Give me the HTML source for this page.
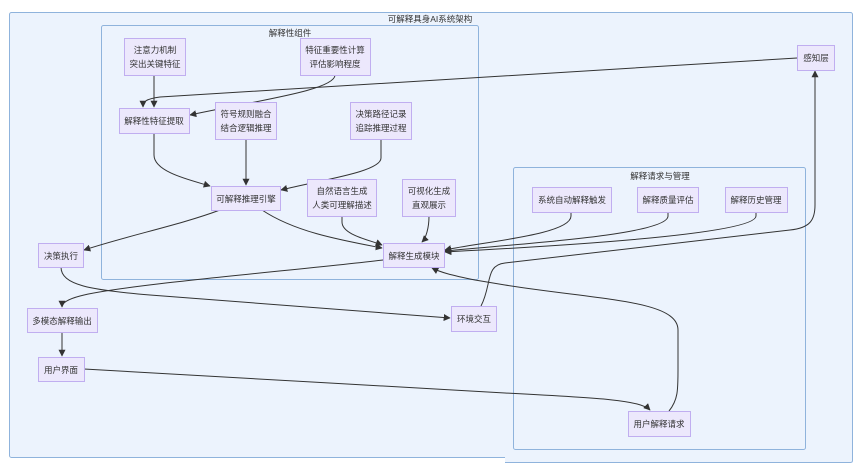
<!DOCTYPE html>
<html><head><meta charset="utf-8"><style>
html,body{margin:0;padding:0;background:#fff;}
svg{display:block;font-family:"Liberation Sans","Noto Sans CJK SC",sans-serif;}
.c{fill:#ecf3fd;stroke:#8fb3dc;stroke-width:1;}
.n{fill:#ece8fc;stroke:#c0aef0;stroke-width:1;}
.t{font-size:8.5px;fill:#333;text-anchor:middle;}
.e{fill:none;stroke:#333;stroke-width:1;marker-end:url(#a);}
</style></head><body>
<svg width="861" height="464" viewBox="0 0 861 464">
<defs><marker id="a" viewBox="0 0 10 10" refX="9" refY="5" markerWidth="7" markerHeight="7" orient="auto"><path d="M0,0 L10,5 L0,10 z" fill="#333"/></marker></defs>
<rect class="c" x="9.5" y="12.5" width="843" height="445" rx="2"/>
<rect x="505" y="455" width="348" height="8" fill="#ecf3fd"/>
<path d="M505,462.5 H850.5 a2,2 0 0 0 2,-2 V450" fill="none" stroke="#8fb3dc"/>
<text class="t" x="430" y="22">可解释具身AI系统架构</text>
<rect class="c" x="101.5" y="25.5" width="377" height="254" rx="2"/>
<text class="t" x="290" y="36">解释性组件</text>
<rect class="c" x="513.5" y="167.5" width="292" height="282" rx="2"/>
<text class="t" x="660" y="179">解释请求与管理</text>

<!-- edges -->
<path class="e" d="M154,75 V107"/>
<path class="e" d="M335,75 C335,90 260,100 190,115"/>
<path class="e" d="M797,58 L160,97 C145,99 143,102 143,107"/>
<path class="e" d="M154,133 V155 C154,172 190,180 210,186"/>
<path class="e" d="M246,139 V185"/>
<path class="e" d="M381,139 V158 C381,172 320,180 281,190"/>
<path class="e" d="M220,210 C180,225 130,235 84,250"/>
<path class="e" d="M262,210 C295,232 340,240 382,248"/>
<path class="e" d="M342,216 V222 C342,235 370,240 382,245"/>
<path class="e" d="M429,216 C429,228 426,238 422,242"/>
<path class="e" d="M571,212 V216 C571,235 480,242 445,250"/>
<path class="e" d="M668,212 V216 C668,236 500,245 445,251"/>
<path class="e" d="M756,212 V216 C756,236 520,248 445,252"/>
<path class="e" d="M481,306 C492,285 485,265 505,263 L790,230 C810,228 815,220 815,205 V71"/>
<path class="e" d="M669,411 C678,400 678,390 678,370 V330 C678,300 600,300 505,285 L475,280 C450,275 440,272 432,268"/>
<path class="e" d="M383,260 C300,270 120,285 80,296 C65,300 62,304 62,307"/>
<path class="e" d="M61,267 C61,285 90,290 150,295 L450,318"/>
<path class="e" d="M62,332 V356"/>
<path class="e" d="M84,369 L505,393 C600,398 640,400 650,410"/>

<!-- nodes -->
<rect class="n" x="124.5" y="38.5" width="61" height="37"/>
<text class="t" x="155" y="53">注意力机制</text><text class="t" x="155" y="67">突出关键特征</text>
<rect class="n" x="300.5" y="38.5" width="70" height="37"/>
<text class="t" x="335" y="53">特征重要性计算</text><text class="t" x="335" y="67">评估影响程度</text>
<rect class="n" x="797.5" y="45.5" width="37" height="25"/>
<text class="t" x="816" y="61">感知层</text>
<rect class="n" x="119.5" y="108.5" width="70" height="25"/>
<text class="t" x="154" y="124">解释性特征提取</text>
<rect class="n" x="215.5" y="102.5" width="61" height="37"/>
<text class="t" x="246" y="117">符号规则融合</text><text class="t" x="246" y="131">结合逻辑推理</text>
<rect class="n" x="350.5" y="102.5" width="61" height="37"/>
<text class="t" x="381" y="117">决策路径记录</text><text class="t" x="381" y="131">追踪推理过程</text>
<rect class="n" x="211.5" y="186.5" width="69" height="24"/>
<text class="t" x="246" y="202">可解释推理引擎</text>
<rect class="n" x="307.5" y="179.5" width="69" height="37"/>
<text class="t" x="342" y="194">自然语言生成</text><text class="t" x="342" y="208">人类可理解描述</text>
<rect class="n" x="402.5" y="179.5" width="53" height="37"/>
<text class="t" x="429" y="194">可视化生成</text><text class="t" x="429" y="208">直观展示</text>
<rect class="n" x="532.5" y="187.5" width="79" height="25"/>
<text class="t" x="572" y="203">系统自动解释触发</text>
<rect class="n" x="637.5" y="187.5" width="61" height="25"/>
<text class="t" x="668" y="203">解释质量评估</text>
<rect class="n" x="725.5" y="187.5" width="62" height="25"/>
<text class="t" x="756" y="203">解释历史管理</text>
<rect class="n" x="38.5" y="243.5" width="45" height="24"/>
<text class="t" x="61" y="259">决策执行</text>
<rect class="n" x="383.5" y="243.5" width="61" height="24"/>
<text class="t" x="414" y="259">解释生成模块</text>
<rect class="n" x="27.5" y="308.5" width="70" height="24"/>
<text class="t" x="62" y="324">多模态解释输出</text>
<rect class="n" x="451.5" y="306.5" width="45" height="25"/>
<text class="t" x="474" y="322">环境交互</text>
<rect class="n" x="38.5" y="357.5" width="46" height="24"/>
<text class="t" x="61" y="373">用户界面</text>
<rect class="n" x="628.5" y="411.5" width="62" height="25"/>
<text class="t" x="659" y="427">用户解释请求</text>
</svg>
</body></html>
